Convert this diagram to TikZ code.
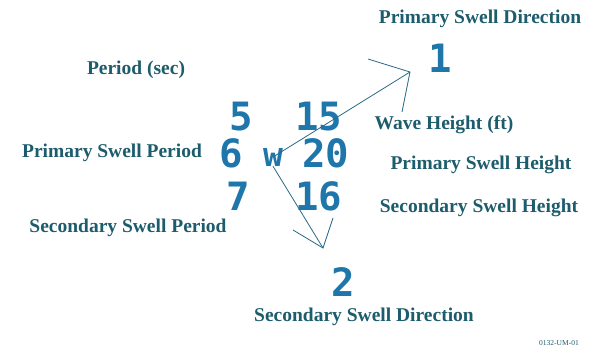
\documentclass[tikz,border=0pt]{standalone}
\usepackage{fontspec}
\setmainfont{Liberation Serif}
\newfontfamily\digitfont{DejaVu Sans Mono}
\definecolor{labelteal}{RGB}{28,92,108}
\definecolor{digitblue}{RGB}{30,118,170}
\definecolor{linecol}{RGB}{40,105,135}
\tikzset{
  lbl/.style = {color = labelteal, font = \fontsize{19.5}{21}\selectfont\bfseries, inner sep = 0pt},
  dgt/.style = {color = digitblue, font = \fontsize{39}{41}\selectfont\digitfont\bfseries, inner sep = 0pt},
  ptr/.style = {color = linecol, line width = 0.8pt}
}
\begin{document}
\begin{tikzpicture}[x = 1pt, y = -1pt]
\useasboundingbox (0,0) rectangle (598,354);
\node [lbl] (pdirlbl) at (480,19) {Primary Swell Direction};
\node [lbl] (perlbl) at (136,70) {Period (sec)};
\node [lbl] (pperlbl) at (112,153) {Primary Swell Period};
\node [lbl] (sperlbl) at (128,228) {Secondary Swell Period};
\node [lbl] (htlbl) at (444,125) {Wave Height (ft)};
\node [lbl] (phtlbl) at (481,165) {Primary Swell Height};
\node [lbl] (shtlbl) at (479,208) {Secondary Swell Height};
\node [lbl] (sdirlbl) at (364,317) {Secondary Swell Direction};
\node [color = labelteal, font = \fontsize{7.5}{8}\selectfont, inner sep = 0pt] (code) at (559,343) {0132-UM-01};
\node [dgt] (pdir) at (440,58) {1};
\node [dgt] (pper) at (241,117) {5};
\node [dgt] (pht) at (319,117) {15};
\node [dgt] (per) at (231,153) {6};
\node [color = digitblue, font = \fontsize{33}{35}\selectfont\digitfont\bfseries, inner sep = 0pt] (wave) at (273,157) {w};
\node [dgt] (ht) at (326,153) {20};
\node [dgt] (sper) at (238,196) {7};
\node [dgt] (sht) at (319,196) {16};
\node [dgt] (sdir) at (343,282) {2};
% pointer to the primary direction
\coordinate (ptipa) at (410,72);
\coordinate (pbarba) at (368,59);
\coordinate (pbarbb) at (402,112);
\draw [ptr] (wave.center) -- (ptipa);
\draw [ptr] (pbarba) -- (ptipa) -- (pbarbb);
% pointer to the secondary direction
\coordinate (stip) at (323,248);
\coordinate (sbarba) at (293,230);
\coordinate (sbarbb) at (333,218);
\draw [ptr] (wave.south) -- (stip);
\draw [ptr] (sbarba) -- (stip) -- (sbarbb);
\end{tikzpicture}
\end{document}
